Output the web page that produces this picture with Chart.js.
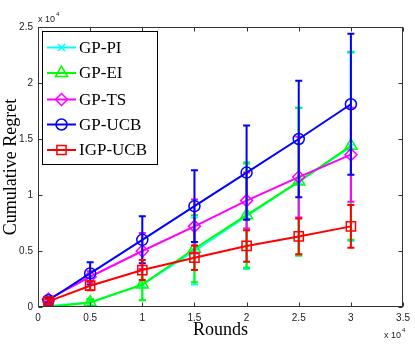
<!DOCTYPE html>
<html>
<head>
<meta charset="utf-8">
<script src="https://cdn.jsdelivr.net/npm/chart.js@4.4.0/dist/chart.umd.min.js"></script>
<style>
  html, body { margin: 0; padding: 0; background: #fff; }
</style>
</head>
<body>
<canvas id="regretView" width="415" height="346"></canvas>
<script>
// rounds, em unidades de 10^4
const rounds = [0.1, 0.5, 1, 1.5, 2, 2.5, 3];
const xTicks = [0, 0.5, 1, 1.5, 2, 2.5, 3, 3.5];
const yTicks = [0, 0.5, 1, 1.5, 2, 2.5];

// regret acumulado (x 10^4) e desvio de cada algoritmo
const piMean  = [0.01, 0.04, 0.20, 0.50, 0.81, 1.12, 1.43];
const piErr   = [0.01, 0.03, 0.14, 0.30, 0.47, 0.66, 0.84];
const eiMean  = [0.00, 0.04, 0.20, 0.52, 0.82, 1.12, 1.44];
const eiErr   = [0.01, 0.03, 0.14, 0.30, 0.47, 0.66, 0.84];
const tsMean  = [0.07, 0.27, 0.50, 0.72, 0.95, 1.16, 1.36];
const tsErr   = [0.02, 0.05, 0.16, 0.24, 0.25, 0.36, 0.42];
const ucbMean = [0.06, 0.30, 0.60, 0.90, 1.20, 1.50, 1.81];
const ucbErr  = [0.02, 0.10, 0.21, 0.32, 0.42, 0.52, 0.63];
const igpMean = [0.05, 0.19, 0.33, 0.44, 0.545, 0.63, 0.72];
const igpErr  = [0.02, 0.04, 0.09, 0.11, 0.14, 0.16, 0.19];

const seriesLabels = ["GP-PI", "GP-EI", "GP-TS", "GP-UCB", "IGP-UCB"];

// monta um dataset no estilo matlab (linha + marcador vazado)
function makeSeries(label, mean, err, color, marker, radius, order) {
    return {
        label: label,
        data: rounds.map((r, i) => ({ x: r, y: mean[i] })),
        errors: err,
        borderColor: color,
        backgroundColor: "rgba(0,0,0,0)",
        borderWidth: 2,
        pointStyle: marker,
        pointRadius: radius,
        pointBorderWidth: 1.5,
        pointBorderColor: color,
        pointBackgroundColor: "rgba(0,0,0,0)",
        showLine: true,
        fill: false,
        tension: 0,
        order: order,
    };
}

const datasets = [
    makeSeries(seriesLabels[0], piMean, piErr, "#00ffff", "crossRot", 5, 5),
    makeSeries(seriesLabels[1], eiMean, eiErr, "#00ff00", "triangle", 7, 4),
    makeSeries(seriesLabels[2], tsMean, tsErr, "#ff00ff", "rectRot", 6, 3),
    makeSeries(seriesLabels[3], ucbMean, ucbErr, "#0000ff", "circle", 5.5, 2),
    makeSeries(seriesLabels[4], igpMean, igpErr, "#ff0000", "rect", 6.5, 1),
];

// barras de erro desenhadas logo depois de cada serie
const errorBarsPlugin = {
    id: "errorBars",
    afterDatasetDraw(chart, args) {
        const ds = chart.data.datasets[args.index];
        const xs = chart.scales.x, ys = chart.scales.y;
        const ctx = chart.ctx;
        const area = chart.chartArea;
        ctx.save();
        ctx.beginPath();
        ctx.rect(area.left, area.top, area.right - area.left, area.bottom - area.top);
        ctx.clip();
        ctx.strokeStyle = ds.borderColor;
        ctx.lineWidth = 2;
        ds.data.forEach((p, i) => {
            const px = xs.getPixelForValue(p.x);
            const top = ys.getPixelForValue(p.y + ds.errors[i]);
            const bot = ys.getPixelForValue(p.y - ds.errors[i]);
            ctx.beginPath();
            ctx.moveTo(px, top); ctx.lineTo(px, bot);
            ctx.moveTo(px - 3.5, top); ctx.lineTo(px + 3.5, top);
            ctx.moveTo(px - 3.5, bot); ctx.lineTo(px + 3.5, bot);
            ctx.stroke();
        });
        ctx.restore();
    }
};

// caixa dos eixos, ticks para dentro e os "x 10^4"
const framePlugin = {
    id: "matlabFrame",
    afterDatasetsDraw(chart) {
        const ctx = chart.ctx;
        const a = chart.chartArea;
        const xs = chart.scales.x, ys = chart.scales.y;
        ctx.save();
        ctx.strokeStyle = "#333";
        ctx.lineWidth = 1;
        const L = Math.round(a.left) + 0.5, R = Math.round(a.right) - 0.5;
        const T = Math.round(a.top) + 0.5, B = Math.round(a.bottom) - 0.5;
        ctx.strokeRect(L, T, R - L, B - T);
        ctx.beginPath();
        xTicks.forEach(v => {
            const px = Math.round(xs.getPixelForValue(v)) + 0.5;
            ctx.moveTo(px, B); ctx.lineTo(px, B - 4);
            ctx.moveTo(px, T); ctx.lineTo(px, T + 4);
        });
        yTicks.forEach(v => {
            const py = Math.round(ys.getPixelForValue(v)) + 0.5;
            ctx.moveTo(L, py); ctx.lineTo(L + 4, py);
            ctx.moveTo(R, py); ctx.lineTo(R - 4, py);
        });
        ctx.stroke();

        ctx.fillStyle = "#222";
        ctx.textBaseline = "alphabetic";
        ctx.textAlign = "left";
        ctx.font = "9px 'Liberation Sans'";
        ctx.fillText("x 10", 38, 22);
        ctx.fillText("x 10", 384, 338);
        ctx.font = "6px 'Liberation Sans'";
        ctx.fillText("4", 56, 16);
        ctx.fillText("4", 402, 332);
        ctx.restore();
    }
};

// legenda dentro do grafico, como no matlab
const legendPlugin = {
    id: "matlabLegend",
    afterDraw(chart) {
        const ctx = chart.ctx;
        ctx.save();
        ctx.fillStyle = "#fff";
        ctx.fillRect(42.5, 31.5, 115, 133);
        ctx.strokeStyle = "#000";
        ctx.lineWidth = 1;
        ctx.strokeRect(42.5, 31.5, 115, 133);
        const rowY = [47.5, 73, 99.5, 124.5, 150];
        chart.data.datasets.forEach((ds, i) => {
            const y = rowY[i];
            ctx.strokeStyle = ds.borderColor;
            ctx.lineWidth = 2;
            ctx.beginPath();
            ctx.moveTo(47, y); ctx.lineTo(76, y);
            ctx.stroke();
            // marcador vazado
            ctx.lineWidth = 1.5;
            ctx.fillStyle = "rgba(0,0,0,0)";
            Chart.helpers.drawPoint(ctx, {
                pointStyle: ds.pointStyle,
                radius: ds.pointRadius,
                rotation: 0,
                borderWidth: 1.5,
            }, 61.5, y);
            ctx.fillStyle = "#000";
            ctx.font = "17px 'Liberation Serif'";
            ctx.textBaseline = "middle";
            ctx.textAlign = "left";
            ctx.fillText(ds.label, 79, y + 1);
        });
        ctx.restore();
    }
};

const regretCtx = document.getElementById("regretView").getContext("2d");
const tickFont = { family: "'Liberation Sans'", size: 10 };
const titleFont = { family: "'Liberation Serif'", size: 18 };

new Chart(regretCtx, {
    type: "scatter",
    data: { datasets: datasets },
    options: {
        responsive: false,
        animation: false,
        devicePixelRatio: 1,
        layout: { padding: { top: 27, right: 10, left: 0, bottom: 0 } },
        plugins: {
            legend: { display: false },
            tooltip: { enabled: false },
        },
        scales: {
            x: {
                type: "linear",
                min: 0, max: 3.5,
                afterBuildTicks: s => { s.ticks = xTicks.map(v => ({ value: v })); },
                afterFit: s => { s.height = 39; },
                grid: { display: false, drawTicks: false },
                border: { display: false },
                ticks: { font: tickFont, color: "#222", padding: 5, maxRotation: 0, callback: v => String(v) },
                title: { display: true, text: "Rounds", font: titleFont, color: "#000", padding: { top: 0, bottom: 5 } },
            },
            y: {
                type: "linear",
                min: 0, max: 2.5,
                afterBuildTicks: s => { s.ticks = yTicks.map(v => ({ value: v })); },
                afterFit: s => { s.width = 38; },
                grid: { display: false, drawTicks: false },
                border: { display: false },
                ticks: { font: tickFont, color: "#222", padding: 5, callback: v => String(v) },
                title: { display: true, text: "Cumulative Regret", font: titleFont, color: "#000", padding: { top: 0, bottom: 0 } },
            },
        },
    },
    plugins: [errorBarsPlugin, framePlugin, legendPlugin],
});
</script>
</body>
</html>
